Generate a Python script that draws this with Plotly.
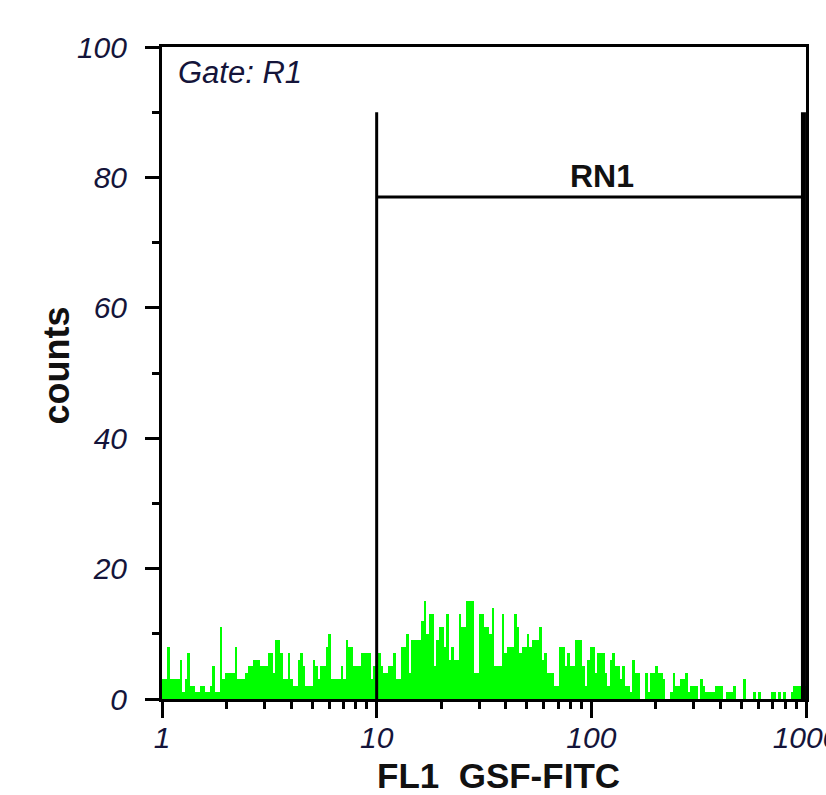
import math
import plotly.graph_objects as go

# ---------------- data ----------------
# 256-channel FL1 histogram (counts per channel), 3 log decades (1..1000)
counts = [
    3, 3, 8, 3, 3, 3, 3, 6, 1, 3, 7, 2, 2, 1, 1, 2, 2, 1, 1, 2,
    5, 1, 1, 11, 3, 4, 4, 4, 4, 8, 3, 3, 3, 4, 5, 5, 6, 6, 6, 5,
    5, 5, 7, 7, 4, 9, 9, 7, 3, 3, 7, 3, 2, 2, 6, 7, 5, 2, 2, 2,
    6, 5, 3, 5, 5, 8, 10, 3, 3, 3, 3, 5, 3, 9, 8, 8, 5, 5, 5, 7,
    7, 7, 7, 3, 5, 7, 7, 5, 4, 4, 5, 5, 7, 3, 3, 8, 8, 10, 4, 9,
    9, 9, 9, 12, 15, 10, 13, 13, 5, 9, 11, 11, 8, 13, 6, 8, 6, 6, 13, 11,
    11, 15, 15, 15, 4, 4, 13, 13, 11, 11, 10, 14, 5, 5, 5, 13, 7, 8, 8, 8,
    13, 11, 7, 8, 8, 10, 8, 9, 9, 9, 11, 6, 7, 4, 4, 4, 2, 2, 8, 8,
    5, 7, 5, 5, 9, 9, 9, 5, 2, 6, 8, 8, 4, 7, 7, 7, 4, 2, 6, 7,
    5, 5, 3, 5, 2, 2, 1, 6, 4, 4, 0, 0, 4, 1, 4, 4, 5, 4, 4, 3,
    0, 0, 1, 4, 2, 2, 3, 3, 4, 1, 2, 2, 2, 0, 3, 2, 1, 1, 1, 1,
    2, 2, 2, 0, 1, 1, 1, 2, 0, 0, 0, 3, 0, 0, 0, 1, 0, 1, 0, 0,
    0, 0, 1, 1, 0, 1, 0, 1, 0, 0, 1, 2, 2, 2, 2, 2,
]
n_channels = 256
n_decades = 3
x_tick_values = [1, 10, 100, 1000]
x_tick_labels = ["1", "10", "100", "1000"]
y_major_ticks = [0, 20, 40, 60, 80, 100]
y_minor_ticks = [10, 30, 50, 70, 90]
gate_label = "Gate: R1"
marker_name = "RN1"
marker_low, marker_high = 10, 973
marker_height = 90
marker_bar_level = 77
x_title = "FL1  GSF-FITC"
y_title = "counts"

# ---------------- figure ----------------
chan_w = n_decades / n_channels
x_centers = [(i + 0.5) * chan_w for i in range(n_channels)]

fig = go.Figure(
    go.Bar(
        x=x_centers,
        y=counts,
        width=chan_w,
        marker=dict(color="#00FF00", line=dict(width=0)),
        hoverinfo="skip",
    )
)

log = math.log10
minor_x = [log(k * 10 ** d) for d in range(n_decades) for k in range(2, 10)]
tick_font = dict(family="Liberation Sans, Arial, sans-serif", size=30,
                 style="italic", color="#14143a")

fig.update_xaxes(
    range=[0, n_decades],
    tickmode="array",
    tickvals=[log(v) for v in x_tick_values],
    ticktext=x_tick_labels,
    ticks="outside", ticklen=16, tickwidth=3, tickcolor="black",
    minor=dict(tickmode="array", tickvals=minor_x, ticks="outside",
               ticklen=7, tickwidth=3, tickcolor="black"),
    showline=True, linewidth=3, linecolor="black", mirror=True,
    showgrid=False, zeroline=False,
    tickfont=tick_font,
    ticklabelstandoff=-6,
    ticklabeloverflow="allow",
    automargin=False,
)
fig.update_yaxes(
    range=[0, 100],
    tickmode="array",
    tickvals=y_major_ticks,
    ticks="outside", ticklen=14, tickwidth=3, tickcolor="black",
    minor=dict(tickmode="array", tickvals=y_minor_ticks, ticks="outside",
               ticklen=7, tickwidth=3, tickcolor="black"),
    showline=True, linewidth=3, linecolor="black", mirror=True,
    showgrid=False, zeroline=False,
    tickfont=tick_font,
    ticklabelstandoff=12,
    automargin=False,
)

# marker RN1 lines
xl, xh = log(marker_low), log(marker_high)
fig.add_shape(type="line", x0=xl, x1=xl, y0=0, y1=marker_height,
              line=dict(color="black", width=3))
fig.add_shape(type="line", x0=xl, x1=xh, y0=marker_bar_level, y1=marker_bar_level,
              line=dict(color="black", width=3))
fig.add_shape(type="line", x0=xh, x1=xh, y0=0, y1=marker_height,
              line=dict(color="black", width=5))

fig.add_annotation(x=2.05, y=marker_bar_level + 3.2, xref="x", yref="y",
                   text=marker_name, showarrow=False, yanchor="middle",
                   font=dict(family="Liberation Sans, Arial, sans-serif", size=32,
                             weight="bold", color="#111111"))
fig.add_annotation(x=0.021, y=0.961, xref="paper", yref="paper",
                   text=gate_label, showarrow=False, xanchor="left", yanchor="middle",
                   font=dict(family="Liberation Sans, Arial, sans-serif", size=31,
                             style="italic", color="#14143a"))
fig.add_annotation(x=0.523, y=-0.118, xref="paper", yref="paper",
                   text=x_title, showarrow=False, xanchor="center", yanchor="middle",
                   font=dict(family="Liberation Sans, Arial, sans-serif", size=35,
                             weight="bold", color="#111111"))
fig.add_annotation(x=-0.164, y=0.512, xref="paper", yref="paper",
                   text=y_title, showarrow=False, textangle=-90,
                   xanchor="center", yanchor="middle",
                   font=dict(family="Liberation Sans, Arial, sans-serif", size=36,
                             weight="bold", color="#111111"))

fig.update_layout(
    width=826, height=795,
    margin=dict(l=162, r=20, t=47, b=96, autoexpand=False),
    plot_bgcolor="white", paper_bgcolor="white",
    showlegend=False,
    bargap=0,
)

fig.write_html("out.html")
